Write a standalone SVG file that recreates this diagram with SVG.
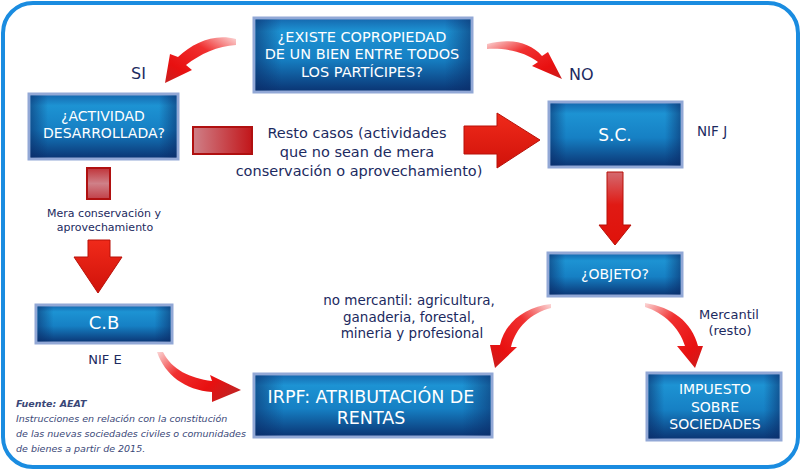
<svg xmlns="http://www.w3.org/2000/svg" width="801" height="471" viewBox="0 0 801 471">
<defs>
<linearGradient id="boxV" x1="0" y1="0" x2="0" y2="1">
<stop offset="0" stop-color="#1566ad"/>
<stop offset="0.18" stop-color="#1d93d3"/>
<stop offset="0.55" stop-color="#1680c4"/>
<stop offset="1" stop-color="#0a3372"/>
</linearGradient>
<linearGradient id="boxH" x1="0" y1="0" x2="1" y2="0">
<stop offset="0" stop-color="#0a2a66" stop-opacity="0.55"/>
<stop offset="0.12" stop-color="#0a2a66" stop-opacity="0"/>
<stop offset="0.88" stop-color="#0a2a66" stop-opacity="0"/>
<stop offset="1" stop-color="#0a2a66" stop-opacity="0.55"/>
</linearGradient>
<linearGradient id="pinkH" x1="0" y1="0" x2="1" y2="0">
<stop offset="0" stop-color="#cf8088"/>
<stop offset="1" stop-color="#c2161a"/>
</linearGradient>
<linearGradient id="pinkV" x1="0" y1="0" x2="0" y2="1">
<stop offset="0" stop-color="#c0343a"/>
<stop offset="0.5" stop-color="#cf8088"/>
<stop offset="1" stop-color="#c24048"/>
</linearGradient>
<linearGradient id="redBlock" x1="0" y1="0" x2="0" y2="1">
<stop offset="0" stop-color="#f02a1a"/>
<stop offset="1" stop-color="#d0120a"/>
</linearGradient>
<linearGradient id="redDown" x1="0" y1="0" x2="0" y2="1">
<stop offset="0" stop-color="#d46a70"/>
<stop offset="0.45" stop-color="#e01a14"/>
<stop offset="1" stop-color="#e0120a"/>
</linearGradient>
<linearGradient id="c1" x1="1" y1="0" x2="0" y2="1">
<stop offset="0" stop-color="#fbd6d6"/>
<stop offset="0.35" stop-color="#f03030"/>
<stop offset="0.75" stop-color="#e81010"/>
<stop offset="1" stop-color="#c82020"/>
</linearGradient>
<linearGradient id="c2" x1="0" y1="0" x2="1" y2="1">
<stop offset="0" stop-color="#fbd6d6"/>
<stop offset="0.35" stop-color="#f03030"/>
<stop offset="0.75" stop-color="#e81010"/>
<stop offset="1" stop-color="#c82020"/>
</linearGradient>
<linearGradient id="c3" x1="0" y1="0" x2="1" y2="0.6">
<stop offset="0" stop-color="#fbd6d6"/>
<stop offset="0.35" stop-color="#f03030"/>
<stop offset="0.75" stop-color="#e81010"/>
<stop offset="1" stop-color="#c82020"/>
</linearGradient>
<linearGradient id="c4" x1="1" y1="0" x2="0" y2="1">
<stop offset="0" stop-color="#fbd6d6"/>
<stop offset="0.35" stop-color="#f03030"/>
<stop offset="0.75" stop-color="#e81010"/>
<stop offset="1" stop-color="#c82020"/>
</linearGradient>
<linearGradient id="c5" x1="0" y1="0" x2="1" y2="1">
<stop offset="0" stop-color="#fbd6d6"/>
<stop offset="0.35" stop-color="#f03030"/>
<stop offset="0.75" stop-color="#e81010"/>
<stop offset="1" stop-color="#c82020"/>
</linearGradient>
</defs>
<style>
.box { fill: url(#boxV); stroke: #92a8d6; stroke-width: 3; }
.shade { fill: url(#boxH); }
.bt { fill: #ffffff; font-family: "DejaVu Sans", Verdana, sans-serif; text-anchor: middle; }
.lbl { fill: #1c2a60; font-family: "DejaVu Sans", Verdana, sans-serif; }
.mid { text-anchor: middle; }
.src { fill: #3a4878; font-family: "DejaVu Sans", Verdana, sans-serif; font-style: italic; font-size: 9.5px; }
.blk { stroke: #b01010; stroke-width: 2; }
</style>
<rect x="3" y="3" width="795" height="464" rx="30" ry="30" fill="#ffffff" stroke="#1a8ce0" stroke-width="4"/>

<g id="connectors">
<path d="M236,39 C214,33 193,43 178,57 L170,54 L165,83 L192,70 L186,65 C200,54 218,46 236,45 Z" fill="url(#c1)"/>
<path d="M487,44 C510,38 530,42 542,56 L548,52 L562,79 L532,66 L538,62 C525,52 507,48 487,49 Z" fill="url(#c2)"/>
<rect x="193" y="127" width="59" height="27" fill="url(#pinkH)" class="blk"/>
<path d="M464,126 L497,126 L497,113 L540,140 L497,168 L497,154 L464,154 Z" fill="url(#redBlock)" stroke="#b81008" stroke-width="1"/>
<rect x="87" y="168" width="23" height="31" fill="url(#pinkV)" class="blk"/>
<path d="M88,240 L110,240 L110,257 L122,257 L98,293 L74,257 L88,257 Z" fill="url(#redBlock)" stroke="#b81008" stroke-width="1"/>
<path d="M607,172 L623,172 L623,225 L631,225 L615,245 L599,225 L607,225 Z" fill="url(#redDown)" stroke="#b81008" stroke-width="1"/>
<path d="M157,352 C165,375 185,390 212,392 L212,402 L241,390 L210,375 L212,381 C190,378 172,370 163,352 Z" fill="url(#c3)"/>
<path d="M551,304 C524,307 505,323 500,345 L490,345 L495,368 L517,347 L511,347 C516,327 531,313 551,308 Z" fill="url(#c4)"/>
<path d="M645,303 C672,307 692,322 698,346 L703,346 L695,368 L677,346 L685,346 C679,327 664,313 645,307 Z" fill="url(#c5)"/>
</g>

<g id="n-copropiedad">
<rect class="box" x="254" y="18" width="218" height="74"/>
<rect class="shade" x="255.5" y="19.5" width="215" height="71"/>
<text class="bt" font-size="14.5" x="362" y="42">¿EXISTE COPROPIEDAD</text>
<text class="bt" font-size="14.5" x="362" y="59">DE UN BIEN ENTRE TODOS</text>
<text class="bt" font-size="14.5" x="362" y="77">LOS PARTÍCIPES?</text>
</g>

<g id="n-actividad">
<rect class="box" x="29" y="94" width="149" height="65"/>
<rect class="shade" x="30.5" y="95.5" width="146" height="62"/>
<text class="bt" font-size="14" x="103" y="121">¿ACTIVIDAD</text>
<text class="bt" font-size="14" x="104" y="138">DESARROLLADA?</text>
</g>

<g id="n-sc">
<rect class="box" x="549" y="102" width="133" height="65"/>
<rect class="shade" x="550.5" y="103.5" width="130" height="62"/>
<text class="bt" font-size="17" x="615" y="141">S.C.</text>
</g>

<g id="n-objeto">
<rect class="box" x="548" y="253" width="134" height="43"/>
<rect class="shade" x="549.5" y="254.5" width="131" height="40"/>
<text class="bt" font-size="14" x="615" y="279">¿OBJETO?</text>
</g>

<g id="n-cb">
<rect class="box" x="36" y="305" width="136" height="38"/>
<rect class="shade" x="37.5" y="306.5" width="133" height="35"/>
<text class="bt" font-size="18" x="104" y="329">C.B</text>
</g>

<g id="n-irpf">
<rect class="box" x="254" y="374" width="238" height="63"/>
<rect class="shade" x="255.5" y="375.5" width="235" height="60"/>
<text class="bt" font-size="17.5" x="371" y="403">IRPF: ATRIBUTACIÓN DE</text>
<text class="bt" font-size="17.5" x="371" y="424">RENTAS</text>
</g>

<g id="n-impuesto">
<rect class="box" x="647" y="373" width="134" height="67"/>
<rect class="shade" x="648.5" y="374.5" width="131" height="64"/>
<text class="bt" font-size="14" x="715" y="394">IMPUESTO</text>
<text class="bt" font-size="14" x="715" y="412">SOBRE</text>
<text class="bt" font-size="14" x="715" y="429">SOCIEDADES</text>
</g>

<g id="labels">
<text class="lbl" font-size="16" x="131" y="79">SI</text>
<text class="lbl" font-size="16" x="569" y="80">NO</text>
<text class="lbl mid" font-size="14.5" x="357" y="138">Resto casos (actividades</text>
<text class="lbl mid" font-size="14.5" x="357" y="157">que no sean de mera</text>
<text class="lbl mid" font-size="14.5" x="359" y="176">conservación o aprovechamiento)</text>
<text class="lbl" font-size="13.5" x="697" y="136">NIF J</text>
<text class="lbl mid" font-size="11" x="104" y="217">Mera conservación y</text>
<text class="lbl mid" font-size="11" x="105" y="231">aprovechamiento</text>
<text class="lbl mid" font-size="13" x="105" y="364">NIF E</text>
<text class="lbl mid" font-size="13.5" x="409" y="305">no mercantil: agricultura,</text>
<text class="lbl mid" font-size="13.5" x="409" y="322">ganaderia, forestal,</text>
<text class="lbl mid" font-size="13.5" x="412" y="338">mineria y profesional</text>
<text class="lbl mid" font-size="13" x="729" y="319">Mercantil</text>
<text class="lbl mid" font-size="13" x="730" y="335">(resto)</text>
<text class="src" x="16" y="407" font-weight="bold" fill="#1c2a60">Fuente: AEAT</text>
<text class="src" x="16" y="422">Instrucciones en relación con la constitución</text>
<text class="src" x="16" y="437">de las nuevas sociedades civiles o comunidades</text>
<text class="src" x="16" y="452">de bienes a partir de 2015.</text>
</g>
</svg>
